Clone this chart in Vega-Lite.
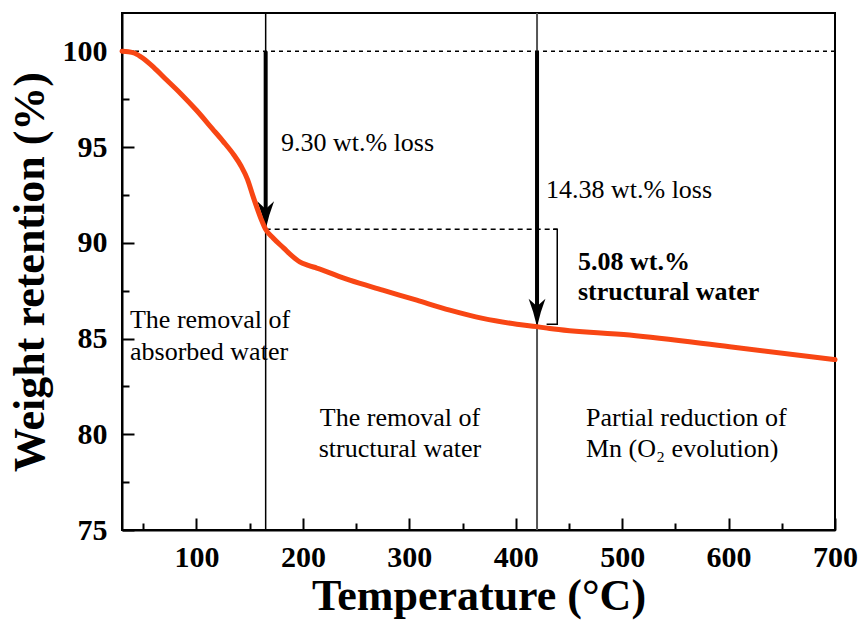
{
  "$schema": "https://vega.github.io/schema/vega-lite/v6.json",
  "width": 713,
  "height": 517,
  "autosize": "none",
  "padding": {"left": 122, "top": 13, "right": 29, "bottom": 100},
  "background": "white",
  "config": {
    "view": {"stroke": "black", "strokeWidth": 2},
    "font": "'Liberation Serif', 'Times New Roman', Times, serif",
    "text": {"font": "'Liberation Serif', 'Times New Roman', Times, serif"}
  },
  "datasets": {
    "curve": [
      {"T": 30, "W": 100.0},
      {"T": 36, "W": 99.98},
      {"T": 42, "W": 99.9},
      {"T": 50, "W": 99.62},
      {"T": 60, "W": 99.15},
      {"T": 72, "W": 98.5},
      {"T": 85, "W": 97.8},
      {"T": 100, "W": 96.92},
      {"T": 115, "W": 95.95},
      {"T": 125, "W": 95.3},
      {"T": 135, "W": 94.6},
      {"T": 142, "W": 94.0},
      {"T": 148, "W": 93.3},
      {"T": 153, "W": 92.45},
      {"T": 157, "W": 91.8},
      {"T": 161, "W": 91.2},
      {"T": 165, "W": 90.7},
      {"T": 172, "W": 90.25},
      {"T": 182, "W": 89.72},
      {"T": 190, "W": 89.3},
      {"T": 197, "W": 89.0},
      {"T": 205, "W": 88.82},
      {"T": 213, "W": 88.68},
      {"T": 244, "W": 88.05},
      {"T": 275, "W": 87.53},
      {"T": 307, "W": 87.0},
      {"T": 338, "W": 86.48},
      {"T": 369, "W": 86.05},
      {"T": 401, "W": 85.75},
      {"T": 420, "W": 85.62},
      {"T": 432, "W": 85.52},
      {"T": 507, "W": 85.18},
      {"T": 601, "W": 84.57},
      {"T": 700, "W": 83.9}
    ],
    "arrows": [
      {"T": 165, "W": 100, "W2": 91.6, "tip": 90.7},
      {"T": 420, "W": 100, "W2": 86.5, "tip": 85.62}
    ],
    "textLeft": [
      {"T": 179.4, "W": 95.2, "label": "9.30 wt.% loss"},
      {"T": 428.4, "W": 92.75, "label": "14.38 wt.% loss"},
      {"T": 37.5, "W": 85.96, "label": "The removal of"},
      {"T": 37.5, "W": 84.29, "label": "absorbed water"},
      {"T": 466, "W": 80.85, "label": "Partial reduction of"},
      {"T": 466, "W": 79.23, "label": "Mn (O₂ evolution)"}
    ],
    "textCenter": [
      {"T": 291.2, "W": 80.85, "label": "The removal of"},
      {"T": 291.2, "W": 79.23, "label": "structural water"}
    ],
    "textBold": [
      {"T": 458.5, "W": 88.99, "label": "5.08 wt.%"},
      {"T": 458.5, "W": 87.42, "label": "structural water"}
    ]
  },
  "layer": [
    {
      "layer": [
        {
          "data": {"values": [{"T": 165}]},
          "mark": {"type": "rule", "color": "black", "strokeWidth": 1.5},
          "encoding": {
            "x": {
              "field": "T",
              "type": "quantitative",
              "scale": {"domain": [30, 700], "nice": false, "zero": false},
              "axis": {
                "orient": "bottom",
                "values": [100, 200, 300, 400, 500, 600, 700],
                "grid": false,
                "tickSize": -12,
                "tickWidth": 2,
                "tickColor": "black",
                "domainColor": "black",
                "domainWidth": 2,
                "labelFont": "'Liberation Serif', 'Times New Roman', Times, serif",
                "labelFontSize": 30,
                "labelFontWeight": "bold",
                "labelColor": "black",
                "labelPadding": 24,
                "labelFlush": false,
                "labelOverlap": false,
                "title": "Temperature (°C)",
                "titleFont": "'Liberation Serif', 'Times New Roman', Times, serif",
                "titleFontSize": 44,
                "titleFontWeight": "bold",
                "titleColor": "black",
                "titlePadding": 2
              }
            }
          }
        },
        {
          "data": {"values": [{"T": 420}]},
          "mark": {"type": "rule", "color": "#555555", "strokeWidth": 2},
          "encoding": {"x": {"field": "T", "type": "quantitative"}}
        },
        {
          "data": {"values": [{"W": 100}]},
          "mark": {"type": "rule", "color": "black", "strokeWidth": 1.5, "strokeDash": [4, 4]},
          "encoding": {
            "y": {
              "field": "W",
              "type": "quantitative",
              "scale": {"domain": [75, 102], "nice": false, "zero": false},
              "axis": {
                "orient": "left",
                "values": [75, 80, 85, 90, 95, 100],
                "grid": false,
                "tickSize": -12,
                "tickWidth": 2,
                "tickColor": "black",
                "domainColor": "black",
                "domainWidth": 2,
                "labelFont": "'Liberation Serif', 'Times New Roman', Times, serif",
                "labelFontSize": 30,
                "labelFontWeight": "bold",
                "labelColor": "black",
                "labelPadding": 27,
                "labelFlush": false,
                "labelOverlap": false,
                "title": "Weight retention (%)",
                "titleFont": "'Liberation Serif', 'Times New Roman', Times, serif",
                "titleFontSize": 44,
                "titleFontWeight": "bold",
                "titleColor": "black",
                "titlePadding": 10
              }
            }
          }
        },
        {
          "data": {"values": [{"T": 165, "T2": 439, "W": 90.7}]},
          "mark": {"type": "rule", "color": "black", "strokeWidth": 1.5, "strokeDash": [5, 4]},
          "encoding": {
            "x": {"field": "T", "type": "quantitative"},
            "x2": {"field": "T2"},
            "y": {"field": "W", "type": "quantitative"}
          }
        },
        {
          "data": {"values": [
            {"i": 1, "T": 435, "W": 90.7},
            {"i": 2, "T": 439, "W": 90.7},
            {"i": 3, "T": 439, "W": 85.75},
            {"i": 4, "T": 429, "W": 85.75}
          ]},
          "mark": {"type": "line", "color": "black", "strokeWidth": 1.5},
          "encoding": {
            "x": {"field": "T", "type": "quantitative"},
            "y": {"field": "W", "type": "quantitative"},
            "order": {"field": "i", "type": "quantitative"}
          }
        },
        {
          "data": {"name": "arrows"},
          "mark": {"type": "rule", "color": "black", "strokeWidth": 4},
          "encoding": {
            "x": {"field": "T", "type": "quantitative"},
            "y": {"field": "W", "type": "quantitative"},
            "y2": {"field": "W2"}
          }
        },
        {
          "data": {"name": "arrows"},
          "mark": {
            "type": "point",
            "shape": "M0,0 Q-0.25,-1.1 -0.6,-2 L0,-1.45 L0.6,-2 Q0.25,-1.1 0,0 Z",
            "filled": true,
            "color": "black",
            "opacity": 1,
            "size": 784,
            "strokeWidth": 0
          },
          "encoding": {
            "x": {"field": "T", "type": "quantitative"},
            "y": {"field": "tip", "type": "quantitative"}
          }
        },
        {
          "data": {"name": "textLeft"},
          "mark": {"type": "text", "align": "left", "baseline": "middle", "fontSize": 26, "color": "black"},
          "encoding": {
            "x": {"field": "T", "type": "quantitative"},
            "y": {"field": "W", "type": "quantitative"},
            "text": {"field": "label"}
          }
        },
        {
          "data": {"name": "textCenter"},
          "mark": {"type": "text", "align": "center", "baseline": "middle", "fontSize": 26, "color": "black"},
          "encoding": {
            "x": {"field": "T", "type": "quantitative"},
            "y": {"field": "W", "type": "quantitative"},
            "text": {"field": "label"}
          }
        },
        {
          "data": {"name": "textBold"},
          "mark": {"type": "text", "align": "left", "baseline": "middle", "fontSize": 26, "fontWeight": "bold", "color": "black"},
          "encoding": {
            "x": {"field": "T", "type": "quantitative"},
            "y": {"field": "W", "type": "quantitative"},
            "text": {"field": "label"}
          }
        }
      ]
    },
    {
      "data": {"name": "curve"},
      "mark": {"type": "line", "color": "#F84614", "strokeWidth": 5, "interpolate": "monotone", "strokeCap": "round"},
      "encoding": {
        "x": {
          "field": "T",
          "type": "quantitative",
          "scale": {"domain": [30, 700], "nice": false, "zero": false},
          "axis": {
            "orient": "bottom",
            "values": [50, 150, 250, 350, 450, 550, 650],
            "grid": false,
            "labels": false,
            "domain": false,
            "tickSize": -7,
            "tickWidth": 2,
            "tickColor": "black",
            "title": null
          }
        },
        "y": {
          "field": "W",
          "type": "quantitative",
          "scale": {"domain": [75, 102], "nice": false, "zero": false},
          "axis": {
            "orient": "left",
            "values": [77.5, 82.5, 87.5, 92.5, 97.5],
            "grid": false,
            "labels": false,
            "domain": false,
            "tickSize": -7,
            "tickWidth": 2,
            "tickColor": "black",
            "title": null
          }
        }
      }
    }
  ],
  "resolve": {"axis": {"x": "independent", "y": "independent"}}
}
